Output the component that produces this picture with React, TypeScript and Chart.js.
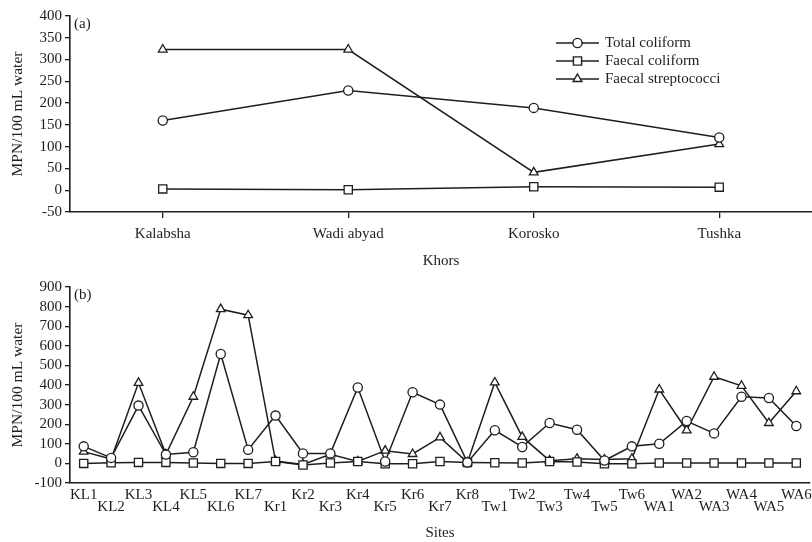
import React, { useEffect, useRef } from 'react';
import { Chart, registerables } from 'chart.js';

Chart.register(...registerables);

const FONT = '"Liberation Serif", "Times New Roman", Times, serif';
const INK = '#1e1e1e';

// ---- Panel (a): Khors ----
const khors = ['Kalabsha', 'Wadi abyad', 'Korosko', 'Tushka'];
const khorTotalColiform = [160, 229, 189, 121];
const khorFaecalColiform = [3, 1, 8, 7];
const khorFaecalStrep = [323, 323, 41, 106];
const khorTicks = { min: -50, max: 400, step: 50 };

// ---- Panel (b): Sites ----
const sites = [
  'KL1', 'KL2', 'KL3', 'KL4', 'KL5', 'KL6', 'KL7',
  'Kr1', 'Kr2', 'Kr3', 'Kr4', 'Kr5', 'Kr6', 'Kr7', 'Kr8',
  'Tw1', 'Tw2', 'Tw3', 'Tw4', 'Tw5', 'Tw6',
  'WA1', 'WA2', 'WA3', 'WA4', 'WA5', 'WA6',
];
const siteTotalColiform = [
  87, 28, 295, 45, 57, 558, 70,
  244, 51, 51, 387, 10, 363, 300, 5,
  169, 84, 206, 172, 15, 87,
  100, 216, 153, 340, 334, 191,
];
const siteFaecalColiform = [
  0, 3, 5, 5, 2, 0, 0,
  10, -8, 2, 10, -2, -2, 10, 5,
  3, 2, 10, 7, -2, -2,
  2, 2, 2, 2, 2, 2,
];
const siteFaecalStrep = [
  60, 22, 411, 46, 340, 787, 756,
  12, -5, 46, 10, 65, 48, 133, 5,
  413, 135, 14, 24, 20, 24,
  377, 169, 442, 396, 206, 368,
];
const siteTicks = { min: -100, max: 900, step: 100 };

const seriesNames = ['Total coliform', 'Faecal coliform', 'Faecal streptococci'];
const seriesMarkers = ['circle', 'rect', 'triangle'];
const markerRadius = [4.6, 5.8, 5];

function drawMarker(ctx: CanvasRenderingContext2D, style: string, x: number, y: number, r: number) {
  ctx.beginPath();
  if (style === 'circle') {
    ctx.arc(x, y, r, 0, Math.PI * 2);
  } else if (style === 'rect') {
    const s = r * Math.SQRT1_2;
    ctx.rect(x - s, y - s, 2 * s, 2 * s);
  } else {
    const w = (r * Math.sqrt(3)) / 2;
    ctx.moveTo(x, y - r);
    ctx.lineTo(x + w, y + r / 2);
    ctx.lineTo(x - w, y + r / 2);
    ctx.closePath();
  }
  ctx.fillStyle = '#ffffff';
  ctx.fill();
  ctx.stroke();
}

const panelLabelPlugin = {
  id: 'panelLabel',
  afterDraw(chart: any, _args: any, opts: any) {
    const { ctx, chartArea } = chart;
    ctx.save();
    ctx.font = `15px ${FONT}`;
    ctx.fillStyle = INK;
    ctx.textBaseline = 'middle';
    ctx.textAlign = 'left';
    ctx.fillText(opts.text || '', chartArea.left + 4, chartArea.top + 8);
    if (opts.legend) {
      ctx.strokeStyle = INK;
      ctx.lineWidth = 1.4;
      seriesNames.forEach((name, i) => {
        const y = chartArea.top + 27 + i * 18;
        const x0 = chartArea.left + 486;
        const x1 = chartArea.left + 529;
        ctx.beginPath();
        ctx.moveTo(x0, y);
        ctx.lineTo(x1, y);
        ctx.stroke();
        drawMarker(ctx, seriesMarkers[i], (x0 + x1) / 2, y, markerRadius[i]);
        ctx.fillStyle = INK;
        ctx.fillText(name, chartArea.left + 535, y);
      });
    }
    ctx.restore();
  },
};

function makeDatasets(values: number[][]) {
  return values.map((data, i) => ({
    label: seriesNames[i],
    data,
    borderColor: INK,
    borderWidth: 1.5,
    backgroundColor: '#ffffff',
    pointStyle: seriesMarkers[i],
    pointRadius: markerRadius[i],
    pointBorderWidth: 1.3,
    pointBorderColor: INK,
    pointBackgroundColor: '#ffffff',
    tension: 0,
    fill: false,
    clip: false,
  }));
}

function makeConfig(
  labels: string[],
  values: number[][],
  range: { min: number; max: number; step: number },
  xTitle: string,
  panel: string,
  staggered: boolean,
  padTop: number,
  padRight: number,
): any {
  const font = { family: FONT, size: 15 };
  return {
    type: 'line',
    data: { labels, datasets: makeDatasets(values) },
    plugins: [panelLabelPlugin],
    options: {
      animation: false,
      responsive: true,
      maintainAspectRatio: false,
      layout: { autoPadding: false, padding: { top: padTop, left: 0, right: padRight, bottom: 0 } },
      plugins: {
        legend: { display: false },
        tooltip: { enabled: false },
        panelLabel: { text: panel, legend: !staggered },
      },
      scales: {
        x: {
          type: 'category',
          offset: true,
          grid: {
            display: true,
            drawOnChartArea: false,
            drawTicks: !staggered,
            tickLength: 6,
            offset: false,
            color: INK,
            lineWidth: 1.3,
          },
          border: { display: true, color: INK, width: 1.6 },
          ticks: {
            color: INK,
            font: staggered ? { ...font, lineHeight: 0.8 } : font,
            padding: staggered ? 6 : 7,
            autoSkip: false,
            maxRotation: 0,
            minRotation: 0,
            callback: function (this: any, value: any, index: number) {
              const l = this.getLabelForValue(value);
              return staggered && index % 2 === 1 ? ['', l] : l;
            },
          },
          title: {
            display: true,
            text: xTitle,
            color: INK,
            font,
            padding: { top: 0, bottom: staggered ? 0 : 2 },
          },
          afterFit: (s: any) => {
            s.height = staggered ? 59 : 60;
            s.paddingRight = 0;
            s.paddingLeft = 0;
          },
        },
        y: {
          min: range.min,
          max: range.max,
          grid: {
            display: true,
            drawOnChartArea: false,
            drawTicks: true,
            tickLength: 5,
            color: INK,
            lineWidth: 1.3,
          },
          border: { display: true, color: INK, width: 1.6 },
          ticks: {
            stepSize: range.step,
            autoSkip: false,
            color: INK,
            font,
            padding: 3,
          },
          title: {
            display: true,
            text: 'MPN/100 mL water',
            color: INK,
            font: { family: FONT, size: 15.5 },
            padding: { top: 9, bottom: 0 },
          },
          afterFit: (s: any) => {
            s.width = 70;
          },
        },
      },
    },
  };
}

function ChartPanel(props: { config: any; height: number }) {
  const ref = useRef<HTMLCanvasElement | null>(null);
  useEffect(() => {
    if (!ref.current) return;
    const chart = new Chart(ref.current, props.config);
    return () => chart.destroy();
  }, []);
  return (
    <div style={{ position: 'relative', width: 812, height: props.height }}>
      <canvas ref={ref} />
    </div>
  );
}

export default function App() {
  const top = makeConfig(
    khors,
    [khorTotalColiform, khorFaecalColiform, khorFaecalStrep],
    khorTicks,
    'Khors',
    '(a)',
    false,
    16,
    0,
  );
  const bottom = makeConfig(
    sites,
    [siteTotalColiform, siteFaecalColiform, siteFaecalStrep],
    siteTicks,
    'Sites',
    '(b)',
    true,
    15,
    2,
  );
  return (
    <div style={{ position: 'absolute', left: 0, top: 0, width: 812, height: 542, background: '#fff' }}>
      <ChartPanel config={top} height={272} />
      <ChartPanel config={bottom} height={270} />
    </div>
  );
}
